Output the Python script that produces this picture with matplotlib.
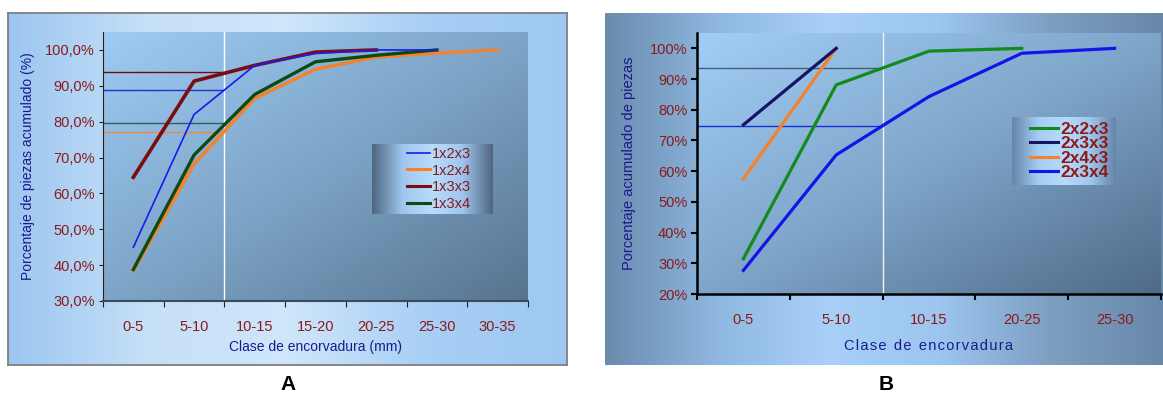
import numpy as np
import matplotlib.pyplot as plt
from matplotlib.colors import LinearSegmentedColormap
from matplotlib.lines import Line2D

plt.rcParams['font.family'] = ['Liberation Sans', 'DejaVu Sans']

W, H = 1163, 398

# panel A data
clases_a = ['0-5', '5-10', '10-15', '15-20', '20-25', '25-30', '30-35']
a_1x2x3 = [0.45, 0.82, 0.957, 0.99, 1.00, 1.00]
a_1x2x4 = [0.384, 0.682, 0.865, 0.946, 0.98, 0.991, 1.00]
a_1x3x3 = [0.645, 0.913, 0.957, 0.994, 1.00]
a_1x3x4 = [0.388, 0.707, 0.876, 0.967, 0.985, 1.00]
a_ref = [0.939, 0.889, 0.795, 0.770]   # 1x3x3, 1x2x3, 1x3x4, 1x2x4 at 10 mm

# panel B data
clases_b = ['0-5', '5-10', '10-15', '20-25', '25-30']
b_2x2x3 = [0.315, 0.881, 0.991, 1.00]
b_2x3x3 = [0.751, 1.00]
b_2x4x3 = [0.575, 1.00]
b_2x3x4 = [0.277, 0.653, 0.843, 0.984, 1.00]
b_ref = [0.937, 0.747]

maroon = '#8b1a1a'
navy = '#1a1a8c'


def px_axes(x0, y0, x1, y1, **kw):
    return fig.add_axes([x0 / W, 1 - y1 / H, (x1 - x0) / W, (y1 - y0) / H], **kw)


def grad_bg(ax, colors, horizontal=True, diag=False, zorder=0, extent=None):
    cmap = LinearSegmentedColormap.from_list('g', colors)
    n = 256
    if diag:
        xx, yy = np.meshgrid(np.linspace(0, 1, n), np.linspace(0, 1, n))
        img = (xx + yy) / 2
    elif horizontal:
        img = np.tile(np.linspace(0, 1, n), (2, 1))
    else:
        img = np.tile(np.linspace(0, 1, n), (2, 1)).T
    if extent is None:
        extent = [0, 1, 0, 1]
        ax.set_xlim(0, 1)
        ax.set_ylim(0, 1)
    ax.imshow(img, cmap=cmap, extent=extent, aspect='auto', origin='upper',
              zorder=zorder, interpolation='bicubic')


fig = plt.figure(figsize=(W / 100, H / 100), dpi=100)
fig.patch.set_facecolor('white')

# ---------- panel A ----------
bgA = px_axes(8, 13, 567, 365)
grad_bg(bgA, ['#9cc6f0', '#c6e0f8', '#cfe6fb', '#a8cff5', '#9ec8f2'])
bgA.set_xticks([]); bgA.set_yticks([])
for s in bgA.spines.values():
    s.set_color('#7f7f7f'); s.set_linewidth(1.3)

axA = px_axes(103, 32, 528, 301)
grad_bg(axA, ['#9ecbf4', '#7ea5c8', '#57748f'], diag=True, zorder=0,
        extent=[-0.5, 6.5, 0.30, 1.05])
axA.set_xlim(-0.5, 6.5)
axA.set_ylim(0.30, 1.05)

axA.axvline(1.5, color='white', lw=1.0, zorder=2)
ref_cols_a = ['#6b0d0d', '#2233cc', '#2f5f5a', '#f08a3c']
for yv, c in zip(a_ref, ref_cols_a):
    axA.hlines(yv, -0.5, 1.5, color=c, lw=1.0, zorder=2)

xa = np.arange(len(clases_a))
axA.plot(xa[:len(a_1x2x4)], a_1x2x4, color='#f5822a', lw=2.4, zorder=3, label='1x2x4')
axA.plot(xa[:len(a_1x3x4)], a_1x3x4, color='#0d4a12', lw=2.4, zorder=4, label='1x3x4')
axA.plot(xa[:len(a_1x3x3)], a_1x3x3, color='#7a0d10', lw=2.6, zorder=5, label='1x3x3')
axA.plot(xa[:len(a_1x2x3)], a_1x2x3, color='#1a1aee', lw=1.2, zorder=6, label='1x2x3')

axA.set_xticks(np.arange(-0.5, 7, 1))
axA.set_xticklabels([])
axA.set_xticks(xa, minor=True)
axA.set_xticklabels(clases_a, minor=True, color=maroon, fontsize=10.5)
axA.tick_params(axis='x', which='major', length=4, direction='out', color='#222222')
axA.tick_params(axis='x', which='minor', length=0, pad=14)
yt = np.arange(0.3, 1.001, 0.1)
axA.set_yticks(yt)
axA.set_yticklabels([f'{v * 100:.1f}%'.replace('.', ',') for v in yt],
                    color=maroon, fontsize=10.5)
axA.tick_params(axis='y', length=3, direction='out', color='#222222', pad=3)
for s in ['top', 'right']:
    axA.spines[s].set_visible(False)
axA.spines['left'].set_color('#222222')
axA.spines['bottom'].set_color('#3c4a5a')
axA.spines['bottom'].set_linewidth(1.5)
axA.set_xlabel('Clase de encorvadura (mm)', color=navy, fontsize=10, labelpad=4)
axA.set_ylabel('Porcentaje de piezas acumulado (%)', color=navy, fontsize=10, labelpad=7)

legA_bg = px_axes(372, 144, 493, 214)
grad_bg(legA_bg, ['#4e6580', '#9ec6ee', '#b9dcfb', '#9ec6ee', '#4e6580'])
legA_bg.axis('off')
hA = [Line2D([], [], color='#1a1aee', lw=1.2), Line2D([], [], color='#f5822a', lw=2.2),
      Line2D([], [], color='#7a0d10', lw=2.2), Line2D([], [], color='#0d4a12', lw=2.2)]
legA = legA_bg.legend(hA, ['1x2x3', '1x2x4', '1x3x3', '1x3x4'], loc='center',
                      bbox_to_anchor=(0.55, 0.5), frameon=False, fontsize=10.5,
                      handlelength=1.6, handletextpad=0.1, labelspacing=0.2,
                      labelcolor=maroon, borderpad=0)

fig.text(288 / W, 1 - 385 / H, 'A', fontsize=15, fontweight='bold', ha='center', va='center')

# ---------- panel B ----------
bgB = px_axes(605, 13, 1163, 365)
grad_bg(bgB, ['#6a8bae', '#8fb8e0', '#a8d0f8', '#9cc6ef', '#7d9fc2', '#6888aa'])
bgB.set_xticks([]); bgB.set_yticks([])
for s in bgB.spines.values():
    s.set_visible(False)

axB = px_axes(697, 33, 1161, 294)
grad_bg(axB, ['#a2cdf6', '#7fa6ca', '#4f6a88'], diag=True, zorder=0,
        extent=[-0.5, 4.5, 0.20, 1.05])
axB.set_xlim(-0.5, 4.5)
axB.set_ylim(0.20, 1.05)

axB.axvline(1.5, color='#f2f2f2', lw=1.0, zorder=2)
axB.hlines(b_ref[0], -0.5, 1.5, color='#3f6070', lw=1.0, zorder=2)
axB.hlines(b_ref[1], -0.5, 1.5, color='#1a2fcf', lw=1.0, zorder=2)

xb = np.arange(len(clases_b))
axB.plot(xb[:len(b_2x3x4)], b_2x3x4, color='#1414e6', lw=2.3, zorder=3, label='2x3x4')
axB.plot(xb[:len(b_2x2x3)], b_2x2x3, color='#138a1c', lw=2.3, zorder=4, label='2x2x3')
axB.plot(xb[:len(b_2x4x3)], b_2x4x3, color='#f5822a', lw=2.3, zorder=5, label='2x4x3')
axB.plot(xb[:len(b_2x3x3)], b_2x3x3, color='#141464', lw=2.3, zorder=6, label='2x3x3')

axB.set_xticks(np.arange(-0.5, 5, 1))
axB.set_xticklabels([])
axB.set_xticks(xb, minor=True)
axB.set_xticklabels(clases_b, minor=True, color=maroon, fontsize=10.5)
axB.tick_params(axis='x', which='major', length=4, width=1.5, direction='out', color='black')
axB.tick_params(axis='x', which='minor', length=0, pad=14)
ytb = np.arange(0.2, 1.001, 0.1)
axB.set_yticks(ytb)
axB.set_yticklabels([f'{v * 100:.0f}%' for v in ytb], color=maroon, fontsize=10.5)
axB.tick_params(axis='y', length=4, width=1.5, direction='out', color='black', pad=3)
for s in ['top', 'right']:
    axB.spines[s].set_visible(False)
for s in ['left', 'bottom']:
    axB.spines[s].set_color('black')
    axB.spines[s].set_linewidth(1.8)
axB.set_xlabel('C l a s e   d e   e n c o r v a d u r a'.replace('   ', '\u2002').replace(' ', '\u200a'),
               color=navy, fontsize=10.5, labelpad=8)
axB.set_ylabel('Porcentaje acumulado de piezas', color=navy, fontsize=10.5, labelpad=10)

legB_bg = px_axes(1012, 117, 1116, 185)
grad_bg(legB_bg, ['#6684a8', '#a4cdf4', '#b6dafb', '#a0c8ef', '#6684a8'])
legB_bg.axis('off')
hB = [Line2D([], [], color='#138a1c', lw=2.2), Line2D([], [], color='#141464', lw=2.2),
      Line2D([], [], color='#f5822a', lw=2.2), Line2D([], [], color='#1414e6', lw=2.2)]
legB = legB_bg.legend(hB, ['2x2x3', '2x3x3', '2x4x3', '2x3x4'], loc='center',
                      bbox_to_anchor=(0.55, 0.5), frameon=False,
                      prop={'size': 12.5, 'weight': 'bold'},
                      handlelength=1.6, handletextpad=0.15, labelspacing=-0.05,
                      labelcolor=maroon, borderpad=0)

fig.text(886 / W, 1 - 385 / H, 'B', fontsize=15, fontweight='bold', ha='center', va='center')

fig.savefig('out.png', dpi=100)
